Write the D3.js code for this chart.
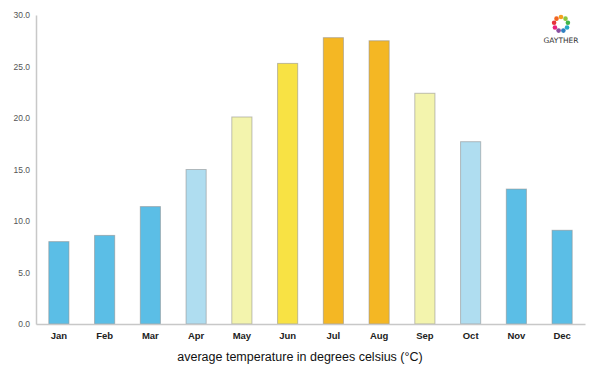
<!DOCTYPE html>
<html>
<head>
<meta charset="utf-8">
<script src="https://cdn.jsdelivr.net/npm/d3@7"></script>
<style>
  body { margin: 0; background: #fff; }
  svg { display: block; font-family: "DejaVu Sans", sans-serif; }
  .axis path, .axis line { stroke: #c8c8c8; }
  .y-axis text { fill: #555; font-size: 8.5px; }
  .x-axis text { fill: #222; font-size: 9.5px; font-weight: bold; }
</style>
</head>
<body>
<div id="chart"></div>
<script>
const months = ["Jan", "Feb", "Mar", "Apr", "May", "Jun", "Jul", "Aug", "Sep", "Oct", "Nov", "Dec"];
const temps = [8.0, 8.6, 11.4, 15.0, 20.1, 25.3, 27.8, 27.5, 22.4, 17.7, 13.1, 9.1];
const yTicks = [0, 5, 10, 15, 20, 25, 30];

const width = 600, height = 375;
const margin = { top: 15, right: 15, bottom: 51, left: 36 };
const innerWidth = width - margin.left - margin.right;
const innerHeight = height - margin.top - margin.bottom;

const svg = d3.select("#chart").append("svg")
  .attr("width", width)
  .attr("height", height);

const g = svg.append("g")
  .attr("transform", `translate(${margin.left},${margin.top})`);

const x = d3.scaleBand()
  .domain(months)
  .range([0, innerWidth])
  .paddingInner(0.56)
  .paddingOuter(0.28);

const y = d3.scaleLinear()
  .domain([0, 30])
  .range([innerHeight, 0]);

// colour by temperature band
const fill = d3.scaleThreshold()
  .domain([14, 20, 24, 26])
  .range(["#5bbee6", "#afddf0", "#f3f4ad", "#f8e244", "#f4b724"]);

g.selectAll(".bar")
  .data(temps)
  .enter()
  .append("rect")
  .attr("class", "bar")
  .attr("x", (d, i) => x(months[i]))
  .attr("y", d => y(d))
  .attr("width", x.bandwidth())
  .attr("height", d => innerHeight - y(d))
  .attr("fill", d => fill(d))
  .attr("stroke", "#8c8c8c")
  .attr("stroke-opacity", 0.55)
  .attr("stroke-width", 1);

g.append("g")
  .attr("class", "axis y-axis")
  .call(d3.axisLeft(y).tickValues(yTicks).tickSize(0).tickPadding(6).tickFormat(d3.format(".1f")))
  .call(a => a.select(".domain").attr("stroke-width", 1.5));

g.append("g")
  .attr("class", "axis x-axis")
  .attr("transform", `translate(0,${innerHeight})`)
  .call(d3.axisBottom(x).tickSize(0).tickPadding(8))
  .call(a => a.select(".domain").attr("stroke-width", 1.5));

svg.append("text")
  .attr("x", 300)
  .attr("y", 361)
  .attr("text-anchor", "middle")
  .style("font-family", "'Liberation Sans', Arial, sans-serif")
  .style("font-size", "12.5px")
  .attr("fill", "#111")
  .text("average temperature in degrees celsius (°C)");

// logo
const logo = svg.append("g").attr("transform", "translate(561,24)");
const logoColors = ["#f4a020", "#8cc63f", "#3fb54a", "#25a9c7", "#2f7fc1", "#8a4fa0", "#e8207e", "#e6323b", "#f16522"];
logo.selectAll("circle")
  .data(logoColors)
  .enter()
  .append("circle")
  .attr("cx", (d, i) => 7 * Math.cos(-Math.PI / 2 + i * 2 * Math.PI / logoColors.length))
  .attr("cy", (d, i) => 7 * Math.sin(-Math.PI / 2 + i * 2 * Math.PI / logoColors.length))
  .attr("r", 2.3)
  .attr("fill", d => d);
logo.append("text")
  .attr("y", 19)
  .attr("text-anchor", "middle")
  .style("font-size", "7.5px")
  .attr("fill", "#333")
  .text("GAYTHER");
</script>
</body>
</html>
